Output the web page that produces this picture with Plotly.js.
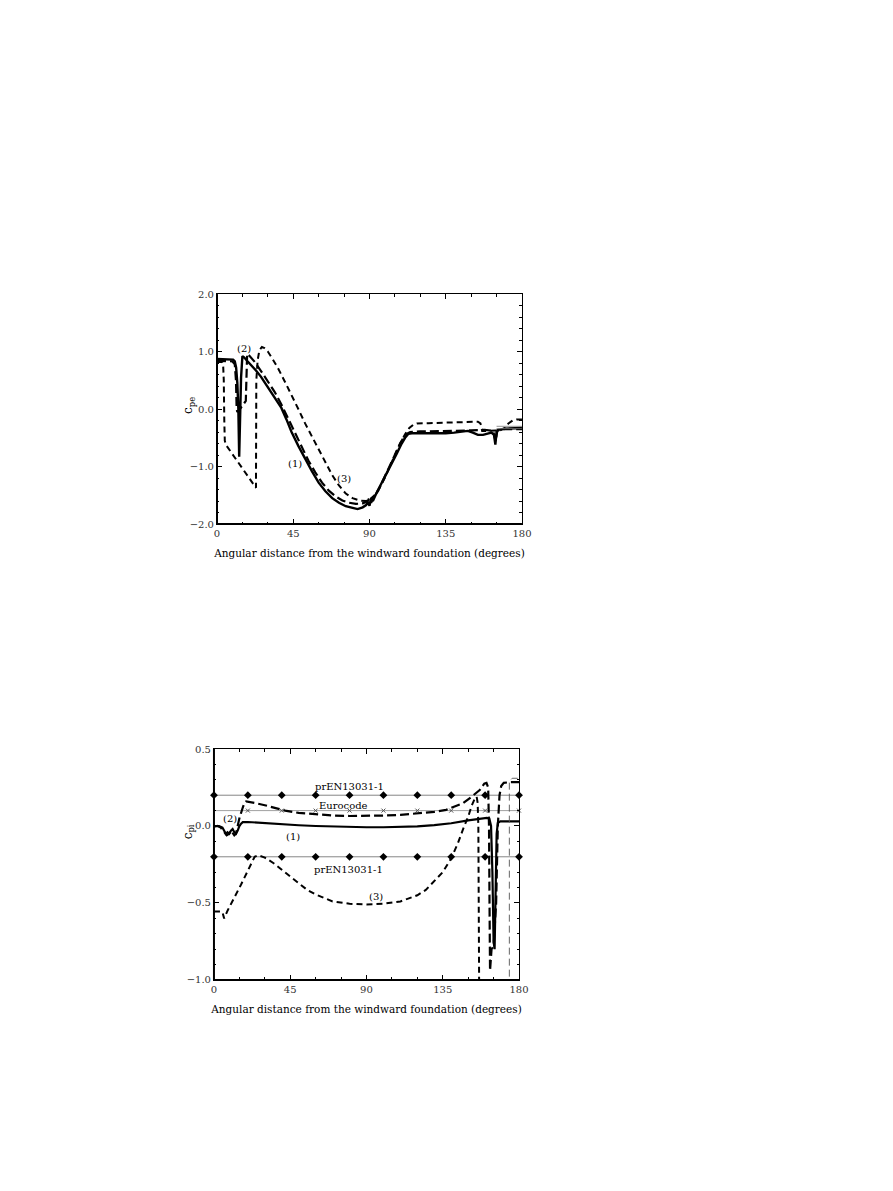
<!DOCTYPE html>
<html>
<head>
<meta charset="utf-8">
<script src="https://cdn.plot.ly/plotly-3.0.1.min.js"></script>
<style>html,body{margin:0;padding:0;background:#fff;}#chart{width:893px;height:1191px;}</style>
</head>
<body>
<div id="chart"></div>
<script>
// ---------- Top chart: external pressure coefficient c_pe ----------
const pe1X = [0,4,8,9.5,10.5,11.3,12,12.6,13.1,13.6,14.2,15,16,18,20,23,26,29,32,35,38,41,44,48,52,56,60,64,68,72,76,80,83,86,88,89,90,91,92,94,97,100,103,106,109,111,113,115,120,125,130,135,140,145,148,151,154,157,160,162,163.5,164.3,165,166,170,175,180];
const pe1Y = [0.87,0.87,0.87,0.86,0.83,0.72,0.45,0.0,-0.83,-0.2,0.55,0.92,0.9,0.83,0.77,0.67,0.56,0.43,0.3,0.16,0.02,-0.18,-0.4,-0.64,-0.87,-1.08,-1.28,-1.43,-1.55,-1.63,-1.69,-1.72,-1.74,-1.71,-1.67,-1.62,-1.68,-1.55,-1.6,-1.47,-1.3,-1.14,-0.96,-0.78,-0.6,-0.5,-0.43,-0.42,-0.42,-0.42,-0.43,-0.42,-0.41,-0.39,-0.38,-0.41,-0.45,-0.45,-0.42,-0.41,-0.45,-0.62,-0.4,-0.36,-0.34,-0.33,-0.33];

const pe2X = [0,5,9,10.5,11.2,11.6,12,13,14.5,16,17,17.3,17.8,19,22,26,30,34,38,42,46,50,54,58,62,66,70,74,78,82,86,89,90,91,92,95,98,101,104,107,110,112,114,120,130,140,150,158,163,164.5,165.5,170,180];
const pe2Y = [0.84,0.84,0.83,0.78,0.5,0.0,-0.05,-0.02,0.05,0.1,0.14,0.6,0.96,0.93,0.83,0.66,0.49,0.3,0.08,-0.17,-0.42,-0.67,-0.9,-1.1,-1.28,-1.42,-1.52,-1.59,-1.63,-1.65,-1.64,-1.6,-1.54,-1.63,-1.55,-1.43,-1.25,-1.06,-0.86,-0.67,-0.5,-0.43,-0.4,-0.39,-0.39,-0.38,-0.37,-0.36,-0.38,-0.56,-0.37,-0.35,-0.35];

const pe3X = [0,3,3.6,4.0,4.3,4.6,5.2,10,14,18,23,23.2,24,25,26.5,28,30,33,36,40,44,48,52,56,60,64,68,72,76,80,84,88,90,93,96,99,102,105,108,111,113.5,116,118,125,135,145,154,155.5,156.5,160,167,170,172,174.5,177,180];
const pe3Y = [0.82,0.82,0.78,0.5,-0.2,-0.55,-0.62,-0.82,-0.98,-1.14,-1.37,0.5,0.85,1.02,1.08,1.06,1.0,0.86,0.71,0.48,0.25,0.0,-0.25,-0.48,-0.71,-0.94,-1.15,-1.33,-1.47,-1.55,-1.59,-1.6,-1.58,-1.5,-1.37,-1.2,-1.0,-0.79,-0.6,-0.44,-0.33,-0.27,-0.25,-0.245,-0.24,-0.23,-0.22,-0.25,-0.38,-0.38,-0.37,-0.33,-0.25,-0.2,-0.18,-0.18];

const peRefX = [165,180];
const peRefA = [-0.30,-0.30];
const peRefB = [-0.34,-0.34];

// ---------- Bottom chart: internal pressure coefficient c_pi ----------
const pi1X = [0,3,5,6,7,8,9,10,11,12,13,14,15,16,17,20,25,30,40,50,60,70,80,90,100,110,120,130,140,150,158,161,162.5,163.5,164.3,165,165.6,166.2,166.8,167.5,169,175,180];
const pi1Y = [0.0,0.0,-0.01,-0.03,-0.05,-0.04,-0.05,-0.03,-0.02,-0.04,-0.05,-0.03,0.0,0.015,0.025,0.026,0.022,0.018,0.011,0.005,0.0,-0.004,-0.007,-0.008,-0.008,-0.005,-0.002,0.006,0.018,0.036,0.05,0.052,0.048,0.0,-0.3,-0.75,-0.8,-0.4,-0.05,0.02,0.03,0.03,0.03];

const pi2X = [0,2,4,6,7.5,9,10,11,12,13,13.5,15,17,18,19,22,26,30,36,42,50,60,70,80,90,100,110,120,130,137,142,147,152,156.8,159.5,160.8,161.8,162.3,162.6,162.9,163.8,165,166.5,167.5,168.5,169.5,171,175,180];
const pi2Y = [-0.005,0.0,-0.01,-0.04,-0.06,-0.05,-0.03,-0.045,-0.06,-0.05,-0.02,0.05,0.12,0.15,0.16,0.155,0.145,0.135,0.118,0.1,0.085,0.075,0.068,0.065,0.065,0.068,0.072,0.08,0.092,0.105,0.125,0.148,0.19,0.234,0.275,0.28,0.25,0.0,-0.5,-0.94,-0.8,-0.78,-0.5,0.0,0.2,0.26,0.28,0.285,0.285];

const pi3X = [0,4,5,6,8,12,16,20,24,26,30,35,40,45,50,55,60,65,70,80,90,100,110,115,120,125,130,135,140,144,147,150,152,154,155,155.6,156,156.3,156.5];
const pi3Y = [-0.555,-0.555,-0.56,-0.6,-0.55,-0.47,-0.38,-0.29,-0.2,-0.19,-0.205,-0.24,-0.285,-0.33,-0.375,-0.415,-0.445,-0.47,-0.49,-0.505,-0.51,-0.505,-0.49,-0.47,-0.45,-0.415,-0.36,-0.3,-0.21,-0.11,-0.02,0.06,0.13,0.18,0.19,0.15,0.0,-0.5,-1.1];

const pi3bX = [174.3,174.3,176,180];
const pi3bY = [-1.05,0.29,0.31,0.31];

const prenX = [0,20,40,60,80,100,120,140,160,180];
const prenUpper = [0.2,0.2,0.2,0.2,0.2,0.2,0.2,0.2,0.2,0.2];
const prenLower = [-0.2,-0.2,-0.2,-0.2,-0.2,-0.2,-0.2,-0.2,-0.2,-0.2];
const euroLineX = [0,180];
const euroLineY = [0.1,0.1];
const euroMarkX = [20,40,60,80,100,120,140,160,180];
const euroMarkY = [0.1,0.1,0.1,0.1,0.1,0.1,0.1,0.1,0.1];

const xTickVals = [0,45,90,135,180];
const xTitle = 'Angular distance from the windward foundation (degrees)';

// ---------- Build ----------
const FONT = 'DejaVu Serif, Liberation Serif, serif';
function line(x, y, xa, ya, dash, width, color){
  return {x:x, y:y, xaxis:xa, yaxis:ya, type:'scatter', mode:'lines',
          line:{color:color||'#000', width:width, dash:dash}, hoverinfo:'skip', showlegend:false};
}
const traces = [
  line(pe1X, pe1Y, 'x', 'y', 'solid', 2.4),
  line(pe2X, pe2Y, 'x', 'y', '9px,4px', 2.2),
  line(pe3X, pe3Y, 'x', 'y', '6px,4px', 2.0),
  line(peRefX, peRefA, 'x', 'y', 'solid', 0.8, '#777'),
  line(peRefX, peRefB, 'x', 'y', 'solid', 0.8, '#777'),

  line(prenX, prenUpper, 'x2', 'y2', 'solid', 0.8, '#666'),
  line(prenX, prenLower, 'x2', 'y2', 'solid', 0.8, '#666'),
  line(euroLineX, euroLineY, 'x2', 'y2', 'solid', 0.8, '#888'),
  {x:prenX, y:prenUpper, xaxis:'x2', yaxis:'y2', type:'scatter', mode:'markers', cliponaxis:false,
   marker:{symbol:'diamond', size:6, color:'#000'}, hoverinfo:'skip', showlegend:false},
  {x:prenX, y:prenLower, xaxis:'x2', yaxis:'y2', type:'scatter', mode:'markers', cliponaxis:false,
   marker:{symbol:'diamond', size:6, color:'#000'}, hoverinfo:'skip', showlegend:false},
  {x:euroMarkX, y:euroMarkY, xaxis:'x2', yaxis:'y2', type:'scatter', mode:'markers', cliponaxis:false,
   marker:{symbol:'x-thin', size:4, line:{color:'#555', width:1}}, hoverinfo:'skip', showlegend:false},

  line(pi1X, pi1Y, 'x2', 'y2', 'solid', 2.2),
  line(pi2X, pi2Y, 'x2', 'y2', '9px,4px', 2.2),
  line(pi3X, pi3Y, 'x2', 'y2', '6px,4px', 2.0),
  line(pi3bX, pi3bY, 'x2', 'y2', '7px,4px', 0.9, '#555')
];

function xAxis(domain, anchor){
  return {domain:domain, anchor:anchor, range:[0,180], tickvals:xTickVals, ticks:'inside', ticklen:5,
    tickcolor:'#000', minor:{dtick:15, ticklen:2.5, ticks:'inside', tickcolor:'#000'},
    showline:true, linecolor:'#000', linewidth:1, mirror:'allticks', showgrid:false, zeroline:false,
    tickfont:{family:FONT, size:10, color:'#333'},
    title:{text:xTitle, font:{family:FONT, size:10.5, color:'#000'}, standoff:11}, automargin:false};
}
function yAxis(domain, anchor, range, dtick, minor){
  return {domain:domain, anchor:anchor, range:range, dtick:dtick, tick0:0, tickformat:'.1f', ticks:'inside', ticklen:5,
    tickcolor:'#000', minor:{dtick:minor, ticklen:2.5, ticks:'inside', tickcolor:'#000'},
    showline:true, linecolor:'#000', linewidth:1, mirror:'allticks', showgrid:false, zeroline:false,
    tickfont:{family:FONT, size:10, color:'#333'}, automargin:false};
}

function ann(x, y, text, xref, yref){
  return {x:x, y:y, xref:xref, yref:yref, text:text, showarrow:false,
    font:{family:FONT, size:10, color:'#000'}, xanchor:'center', yanchor:'middle'};
}
function ytitle(yPaper, text){
  return {x:0.2116, y:yPaper, xref:'paper', yref:'paper', text:text, showarrow:false, textangle:-90,
    font:{family:FONT, size:12, color:'#000'}, xanchor:'center', yanchor:'middle'};
}
function thick(xref, yref){
  return [
    {type:'line', xref:xref+' domain', yref:yref+' domain', x0:0, x1:0, y0:0, y1:1, line:{color:'#000', width:2}},
    {type:'line', xref:xref+' domain', yref:yref+' domain', x0:0, x1:1, y0:0, y1:0, line:{color:'#000', width:2}}
  ];
}

const layout = {
  width:893, height:1191, margin:{l:0, r:0, t:0, b:0}, paper_bgcolor:'#fff', plot_bgcolor:'#fff',
  showlegend:false,
  xaxis: xAxis([0.243, 0.5845], 'y'),
  yaxis: yAxis([0.56, 0.7531], 'x', [-2, 2], 1, 0.2),
  xaxis2: xAxis([0.2396, 0.5812], 'y2'),
  yaxis2: yAxis([0.1772, 0.3711], 'x2', [-1, 0.5], 0.5, 0.1),
  annotations:[
    ytitle(0.66, 'c<sub>pe</sub>'),
    ytitle(0.302, 'c<sub>pi</sub>'),
    ann(15.8, 1.06, '(2)', 'x', 'y'),
    ann(46.1, -0.95, '(1)', 'x', 'y'),
    ann(75.2, -1.2, '(3)', 'x', 'y'),
    ann(80.1, 0.256, 'prEN13031-1', 'x2', 'y2'),
    ann(76.2, 0.13, 'Eurocode', 'x2', 'y2'),
    ann(79.3, -0.28, 'prEN13031-1', 'x2', 'y2'),
    ann(46.7, -0.069, '(1)', 'x2', 'y2'),
    ann(9.3, 0.046, '(2)', 'x2', 'y2'),
    ann(95.9, -0.458, '(3)', 'x2', 'y2')
  ],
  shapes: thick('x', 'y').concat(thick('x2', 'y2'))
};

Plotly.newPlot('chart', traces, layout, {staticPlot:true, displayModeBar:false});
</script>
</body>
</html>
